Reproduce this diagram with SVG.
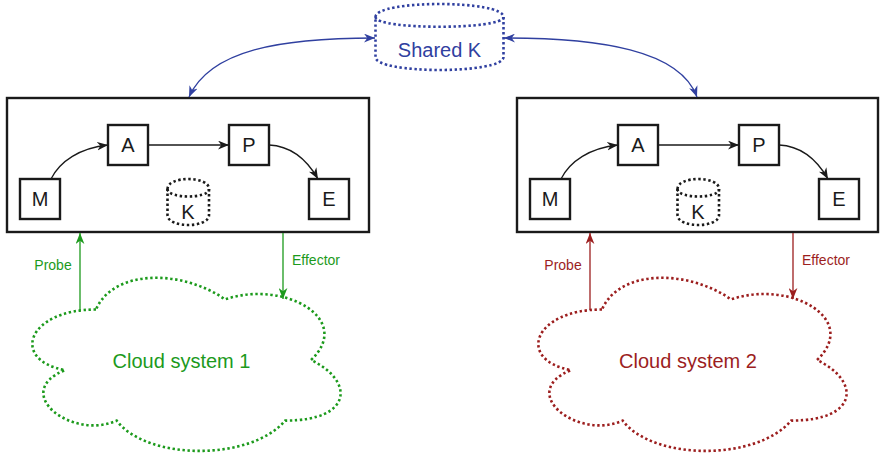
<svg xmlns="http://www.w3.org/2000/svg" width="880" height="455" viewBox="0 0 880 455">
  <style>
    .box { fill: #ffffff; stroke: #1a1a1a; stroke-width: 2.4; }
    .frame { fill: #ffffff; stroke: #1a1a1a; stroke-width: 2.4; }
    .lbl { font-family: "Liberation Sans", Arial, sans-serif; font-size: 20px; fill: #1a1a1a; text-anchor: middle; }
    .small { font-family: "Liberation Sans", Arial, sans-serif; font-size: 14px; text-anchor: middle; }
    .dotted { fill: #ffffff; stroke-width: 2.6; stroke-dasharray: 2.4 2.6; }
    .lid { fill: none; stroke-width: 2.6; stroke-dasharray: 2.4 2.6; }
    .edge { fill: none; stroke: #1a1a1a; stroke-width: 1.3; marker-end: url(#ah-black); }
    .blue { fill: none; stroke: #3040a0; stroke-width: 1.3; marker-start: url(#ah-blue); marker-end: url(#ah-blue); }
    .green { fill: none; stroke: #1c9a1c; stroke-width: 1.3; marker-end: url(#ah-green); }
    .red { fill: none; stroke: #9c1e1e; stroke-width: 1.3; marker-end: url(#ah-red); }
  </style>
  <defs>
    <marker id="ah-black" viewBox="0 0 10 8" refX="10" refY="4" markerWidth="11" markerHeight="9" markerUnits="userSpaceOnUse" orient="auto-start-reverse">
      <path d="M0,0 L10,4 L0,8 L3,4 Z" fill="#1a1a1a"/>
    </marker>
    <marker id="ah-blue" viewBox="0 0 10 8" refX="10" refY="4" markerWidth="11" markerHeight="9" markerUnits="userSpaceOnUse" orient="auto-start-reverse">
      <path d="M0,0 L10,4 L0,8 L3,4 Z" fill="#3040a0"/>
    </marker>
    <marker id="ah-green" viewBox="0 0 10 8" refX="10" refY="4" markerWidth="11" markerHeight="9" markerUnits="userSpaceOnUse" orient="auto">
      <path d="M0,0 L10,4 L0,8 L3,4 Z" fill="#1c9a1c"/>
    </marker>
    <marker id="ah-red" viewBox="0 0 10 8" refX="10" refY="4" markerWidth="11" markerHeight="9" markerUnits="userSpaceOnUse" orient="auto">
      <path d="M0,0 L10,4 L0,8 L3,4 Z" fill="#9c1e1e"/>
    </marker>
    <!-- cloud outline, 344 x 202 -->
    <path id="cloud-shape" d="M96,309.5 C27.2,309.5 10,360 65,370.1 C10,392.3 71.9,440.8 116.6,420.6 C147.6,461 250.8,461 285.2,420.6 C354,420.6 354,380.2 311,360 C354,319.6 285.2,279.2 225,299.4 C182,269.1 113.2,269.1 96,309.5 Z"/>
  </defs>

  <!-- shared knowledge store -->
  <g id="shared-k">
    <path class="dotted" stroke="#3040a0" d="M375.5,17 C375.5,-0.3 503.5,-0.3 503.5,17 L503.5,57 C503.5,74.3 375.5,74.3 375.5,57 Z"/>
    <path class="lid" stroke="#3040a0" d="M375.5,17 C375.5,30 503.5,30 503.5,17"/>
    <text class="lbl" x="439.5" y="57" style="fill:#3040a0">Shared K</text>
  </g>

  <!-- MAPE-K loop 1 -->
  <g id="loop1">
    <rect class="frame" x="7" y="98" width="362" height="134"/>
    <g id="m1"><rect class="box" x="20" y="179" width="40" height="40"/><text class="lbl" x="40" y="206">M</text></g>
    <g id="a1"><rect class="box" x="108" y="125" width="40" height="40"/><text class="lbl" x="128" y="152">A</text></g>
    <g id="p1"><rect class="box" x="229" y="125" width="40" height="40"/><text class="lbl" x="249" y="152">P</text></g>
    <g id="e1"><rect class="box" x="309" y="179" width="40" height="40"/><text class="lbl" x="329" y="206">E</text></g>
    <g id="k1">
      <path class="dotted" stroke="#1a1a1a" d="M167.5,189 C167.5,175.7 209,175.7 209,189 L209,215 C209,228.3 167.5,228.3 167.5,215 Z"/>
      <path class="lid" stroke="#1a1a1a" d="M167.5,189 C167.5,199 209,199 209,189"/>
      <text class="lbl" x="188" y="219">K</text>
    </g>
  </g>

  <!-- MAPE-K loop 2 -->
  <g id="loop2">
    <rect class="frame" x="517" y="98" width="361" height="134"/>
    <g id="m2"><rect class="box" x="530" y="179" width="40" height="40"/><text class="lbl" x="550" y="206">M</text></g>
    <g id="a2"><rect class="box" x="618" y="125" width="40" height="40"/><text class="lbl" x="638" y="152">A</text></g>
    <g id="p2"><rect class="box" x="739" y="125" width="40" height="40"/><text class="lbl" x="759" y="152">P</text></g>
    <g id="e2"><rect class="box" x="819" y="179" width="40" height="40"/><text class="lbl" x="839" y="206">E</text></g>
    <g id="k2">
      <path class="dotted" stroke="#1a1a1a" d="M677.5,189 C677.5,175.7 719,175.7 719,189 L719,215 C719,228.3 677.5,228.3 677.5,215 Z"/>
      <path class="lid" stroke="#1a1a1a" d="M677.5,189 C677.5,199 719,199 719,189"/>
      <text class="lbl" x="698" y="219">K</text>
    </g>
  </g>

  <!-- managed systems -->
  <g id="cloud1">
    <use href="#cloud-shape" class="dotted" stroke="#1c9a1c"/>
    <text class="lbl" x="181.5" y="368" style="fill:#1c9a1c">Cloud system 1</text>
  </g>
  <g id="cloud2">
    <use href="#cloud-shape" class="dotted" stroke="#9c1e1e" transform="translate(506,0)"/>
    <text class="lbl" x="688" y="368" style="fill:#9c1e1e">Cloud system 2</text>
  </g>

  <!-- connectors -->
  <g id="connectors">
    <path class="edge" d="M51,179 C60,161 80,148 108,145"/>
    <path class="edge" d="M148,145 L229,145"/>
    <path class="edge" d="M269,145 C290,146 306,158 318,179"/>
    <path class="edge" d="M561,179 C570,161 590,148 618,145"/>
    <path class="edge" d="M658,145 L739,145"/>
    <path class="edge" d="M779,145 C800,146 816,158 828,179"/>

    <path class="blue" d="M375,38 C280,38 210,50 189,97"/>
    <path class="blue" d="M504,38 C600,38 680,50 697,97"/>

    <path class="green" d="M80,310 L80,233"/>
    <path class="green" d="M283,233 L283,299"/>
    <path class="red" d="M590,310 L590,233"/>
    <path class="red" d="M793,233 L793,299"/>

    <text class="small" x="53" y="270" fill="#1c9a1c">Probe</text>
    <text class="small" x="316" y="265" fill="#1c9a1c">Effector</text>
    <text class="small" x="563" y="270" fill="#9c1e1e">Probe</text>
    <text class="small" x="826" y="265" fill="#9c1e1e">Effector</text>
  </g>
</svg>
